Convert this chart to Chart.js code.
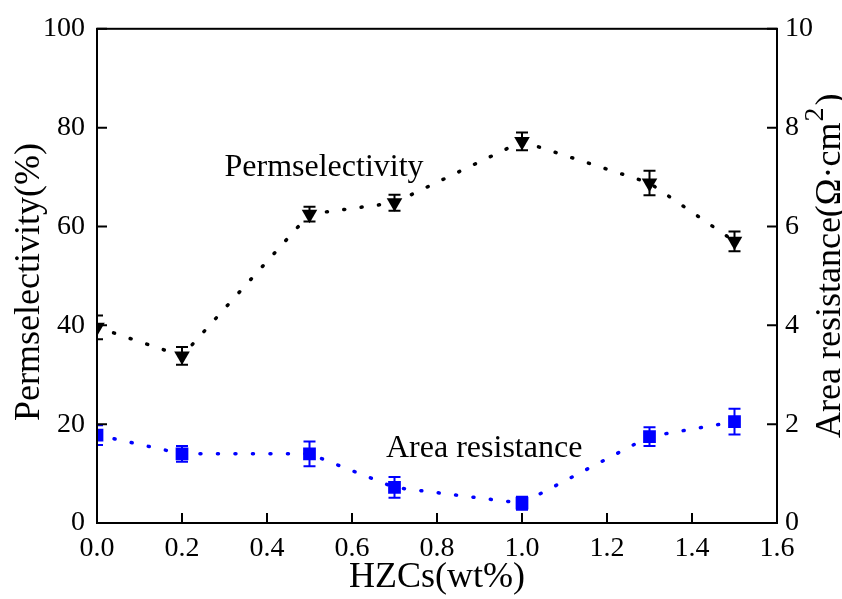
<!DOCTYPE html>
<html>
<head>
<meta charset="utf-8">
<script src="https://cdn.jsdelivr.net/npm/chart.js@4.4.1/dist/chart.umd.min.js"></script>
<style>
  html, body { margin: 0; padding: 0; background: #fff; }
  #chart { display: block; }
</style>
</head>
<body>
<canvas id="chart" width="842" height="599"></canvas>
<script>
// HZC loading (wt%)
const hzc = [0, 0.2, 0.5, 0.7, 1.0, 1.3, 1.5];
// permselectivity (%) and its error
const perm = [39.6, 33.8, 62.5, 64.8, 77.2, 68.8, 57.0];
const permErr = [2.4, 1.8, 1.5, 1.6, 1.8, 2.5, 2.0];
// area resistance (ohm cm2) and its error
const area = [1.78, 1.40, 1.40, 0.72, 0.40, 1.75, 2.05];
const areaErr = [0.20, 0.16, 0.25, 0.21, 0.13, 0.19, 0.26];

const serif = "'Liberation Serif', 'Times New Roman', serif";

function pts(ys) {
  return hzc.map((x, i) => ({ x: x, y: ys[i] }));
}

// vertical error bars with caps, drawn through the chart scales
const errorBars = {
  id: 'errorBars',
  beforeDatasetsDraw(chart) {
    const ctx = chart.ctx;
    const a = chart.chartArea;
    ctx.save();
    ctx.beginPath();
    ctx.rect(a.left, a.top, a.right - a.left, a.bottom - a.top);
    ctx.clip();
    chart.data.datasets.forEach(ds => {
      const ys = chart.scales[ds.yAxisID];
      const xs = chart.scales.x;
      ctx.strokeStyle = ds.borderColor;
      ctx.lineWidth = 2;
      ds.data.forEach((p, i) => {
        const px = xs.getPixelForValue(p.x);
        const hi = ys.getPixelForValue(p.y + ds.err[i]);
        const lo = ys.getPixelForValue(p.y - ds.err[i]);
        ctx.beginPath();
        ctx.moveTo(px, hi); ctx.lineTo(px, lo);
        ctx.moveTo(px - 6, hi); ctx.lineTo(px + 6, hi);
        ctx.moveTo(px - 6, lo); ctx.lineTo(px + 6, lo);
        ctx.stroke();
      });
    });
    ctx.restore();
  }
};

// box around the plot with inward ticks, y titles and series names
const frame = {
  id: 'frame',
  afterDraw(chart) {
    const ctx = chart.ctx;
    const a = chart.chartArea;
    const s = chart.scales;
    ctx.save();
    ctx.strokeStyle = '#000';
    ctx.lineWidth = 2;
    ctx.strokeRect(a.left, a.top, a.right - a.left, a.bottom - a.top);
    ctx.beginPath();
    s.x.ticks.forEach(t => {
      const px = s.x.getPixelForValue(t.value);
      ctx.moveTo(px, a.bottom); ctx.lineTo(px, a.bottom - 10);
    });
    s.y.ticks.forEach(t => {
      const py = s.y.getPixelForValue(t.value);
      ctx.moveTo(a.left, py); ctx.lineTo(a.left + 10, py);
    });
    s.y2.ticks.forEach(t => {
      const py = s.y2.getPixelForValue(t.value);
      ctx.moveTo(a.right, py); ctx.lineTo(a.right - 10, py);
    });
    ctx.stroke();

    ctx.fillStyle = '#000';
    ctx.textBaseline = 'middle';

    // left title, reads bottom to top
    ctx.save();
    ctx.translate(30, 282);
    ctx.rotate(-Math.PI / 2);
    ctx.font = '36px ' + serif;
    ctx.textAlign = 'center';
    ctx.fillText('Permselectivity(%)', 0, 0);
    ctx.restore();

    // right title with superscript, also bottom to top
    ctx.save();
    ctx.translate(828, 438);
    ctx.rotate(-Math.PI / 2);
    ctx.textAlign = 'left';
    ctx.textBaseline = 'alphabetic';
    ctx.font = '36px ' + serif;
    const main = 'Area resistance(Ω·cm';
    ctx.fillText(main, 0, 12);
    let w = ctx.measureText(main).width;
    ctx.font = '28px ' + serif;
    ctx.fillText('2', w + 1, -5);
    w += ctx.measureText('2').width + 3;
    ctx.font = '36px ' + serif;
    ctx.fillText(')', w, 12);
    ctx.restore();

    // series names inside the plot
    ctx.font = '32px ' + serif;
    ctx.textAlign = 'left';
    ctx.fillText('Permselectivity', s.x.getPixelForValue(0.3), s.y.getPixelForValue(72));
    ctx.fillText('Area resistance', s.x.getPixelForValue(0.68), s.y2.getPixelForValue(1.5));
    ctx.restore();
  }
};

const ctx = document.getElementById('chart');
const chart = new Chart(ctx, {
  type: 'line',
  data: {
    datasets: [{
      label: 'Permselectivity',
      data: pts(perm),
      err: permErr,
      yAxisID: 'y',
      borderColor: '#000000',
      backgroundColor: '#000000',
      borderWidth: 3.5,
      borderDash: [1, 16.5],
      borderCapStyle: 'round',
      pointStyle: 'triangle',
      rotation: 180,
      pointRadius: 9,
      pointBorderWidth: 0
    }, {
      label: 'Area resistance',
      data: pts(area),
      err: areaErr,
      yAxisID: 'y2',
      borderColor: '#0000ff',
      backgroundColor: '#0000ff',
      borderWidth: 3.5,
      borderDash: [1, 16.5],
      borderCapStyle: 'round',
      pointStyle: 'rect',
      pointRadius: 9,
      pointBorderWidth: 0
    }]
  },
  options: {
    responsive: false,
    animation: false,
    devicePixelRatio: 1,
    layout: { padding: { top: 25, left: 0, right: 0, bottom: 0 } },
    plugins: {
      legend: { display: false },
      tooltip: { enabled: false }
    },
    scales: {
      x: {
        type: 'linear',
        min: 0,
        max: 1.6,
        grid: { display: false, drawTicks: false },
        border: { display: false },
        ticks: {
          stepSize: 0.2,
          color: '#000',
          padding: 9,
          maxRotation: 0,
          font: { family: serif, size: 28 },
          callback: v => v.toFixed(1)
        },
        title: {
          display: true,
          text: 'HZCs(wt%)',
          color: '#000',
          padding: { top: 0, bottom: 3 },
          font: { family: serif, size: 36, lineHeight: 1 }
        },
        afterFit: sc => { sc.height = 76; }
      },
      y: {
        position: 'left',
        min: 0,
        max: 100,
        grid: { display: false, drawTicks: false },
        border: { display: false },
        ticks: {
          stepSize: 20,
          color: '#000',
          padding: 12,
          font: { family: serif, size: 28 }
        },
        afterFit: sc => { sc.width = 97; }
      },
      y2: {
        position: 'right',
        min: 0,
        max: 10,
        grid: { display: false, drawTicks: false },
        border: { display: false },
        ticks: {
          stepSize: 2,
          color: '#000',
          padding: 8,
          font: { family: serif, size: 28 }
        },
        afterFit: sc => { sc.width = 65; }
      }
    }
  },
  plugins: [errorBars, frame]
});
</script>
</body>
</html>
